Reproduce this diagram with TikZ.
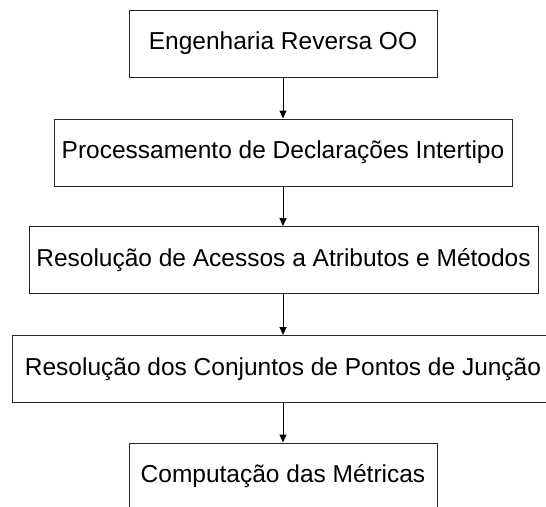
\documentclass[tikz,border=0pt]{standalone}
\usepackage{fontspec}
\setmainfont{Liberation Sans}
\usetikzlibrary{arrows.meta}
\begin{document}
\begin{tikzpicture}[x=1pt,y=1pt,
  etapa/.style={draw=black!85, line width=1pt, minimum height=67pt, inner sep=0pt,
    font=\fontsize{24.5}{29}\selectfont},
  seta/.style={-{Triangle[length=8pt,width=7pt]}, line width=1pt}]
\useasboundingbox (0,0) rectangle (546,-506);
% etapas
\node[etapa, minimum width=308pt] (engenharia) at (283,-43.5) {Engenharia Reversa OO};
\node[etapa, minimum width=458pt] (declaracoes) at (283,-152.5) {Processamento de Declarações Intertipo};
\node[etapa, minimum width=509pt] (acessos) at (283.5,-260) {Resolução de Acessos a Atributos e Métodos};
\node[etapa, minimum width=542pt] (juncao) at (283,-369) {Resolução dos Conjuntos de Pontos de Junção};
\node[etapa, minimum width=308pt] (metricas) at (283,-476.5) {Computação das Métricas};

% fluxo
\draw[seta] (engenharia.south) -- (declaracoes.north);
\draw[seta] (declaracoes.south) -- (declaracoes.south |- acessos.north);
\draw[seta] (acessos.south -| juncao.north) -- (juncao.north);
\draw[seta] (juncao.south) -- (metricas.north);
\end{tikzpicture}
\end{document}
